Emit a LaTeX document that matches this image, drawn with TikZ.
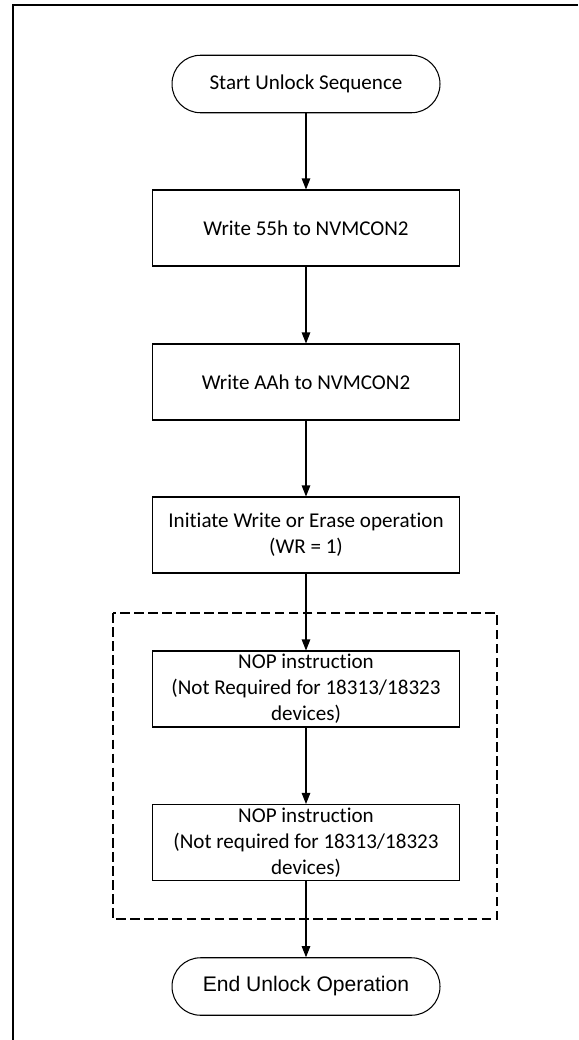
\documentclass[tikz,border=0pt]{standalone}
\usepackage{fontspec}
\setmainfont{Carlito}[Ligatures=NoCommon]
\newfontfamily\arialfont{Liberation Sans}
\usetikzlibrary{arrows.meta}

\tikzset{
  terminal/.style={draw, line width=0.6pt, rounded corners=0.57cm,
    minimum width=5.36cm, minimum height=1.15cm, inner sep=0pt},
  process/.style={draw, line width=0.6pt, minimum width=6.14cm,
    minimum height=1.52cm, inner sep=0pt, align=center},
  flow/.style={->, line width=0.6pt},
  groupbox/.style={line width=0.6pt, dash pattern=on 5.5pt off 2.5pt}
}

\begin{document}
\begin{tikzpicture}[x=0.02cm, y=-0.02cm, >={Triangle[length=0.22cm, width=0.17cm]},
    font=\fontsize{12}{14.8}\selectfont]
    \useasboundingbox (0,0) rectangle (578,1040);
    % frame (only left and top edges are visible)
    \draw[line width=1.1pt] (13,1040) -- (13,5) -- (578,5);

    % steps
    \node[terminal] (start) at (306,84) {Start Unlock Sequence};
    \node[process] (w55) at (306,228) {Write 55h to NVMCON2};
    \node[process] (waa) at (306,382) {Write AAh to NVMCON2};
    \node[process] (init) at (306,535) {Initiate Write or Erase operation\\(WR = 1)};
    \node[process] (nop1) at (306,689) {NOP instruction\\(Not Required for 18313/18323\\devices)};
    \node[process] (nop2) at (306,842.5) {NOP instruction\\(Not required for 18313/18323\\devices)};
    \node[terminal, font=\arialfont\fontsize{12}{14}\selectfont] (stop) at (306,986.5) {End Unlock Operation};

    % dashed group round the NOP steps
    \draw[groupbox] (113,613) rectangle (497,919);

    % connectors
    \draw[flow] (start) -- (w55);
    \draw[flow] (w55) -- (waa);
    \draw[flow] (waa) -- (init);
    \draw[flow] (init) -- (nop1);
    \draw[flow] (nop1) -- (nop2);
    \draw[flow] (nop2) -- (stop);
\end{tikzpicture}
\end{document}
